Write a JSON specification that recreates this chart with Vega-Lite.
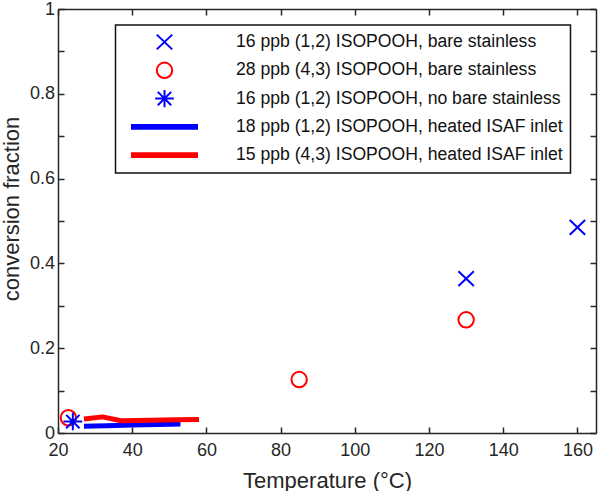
{
  "$schema": "https://vega.github.io/schema/vega-lite/v6.json",
  "width": 538,
  "height": 424,
  "autosize": {"type": "none"},
  "padding": {"left": 58, "top": 9, "right": 3, "bottom": 58},
  "background": "white",
  "config": {
    "font": "Liberation Sans",
    "view": {"stroke": null},
    "axis": {
      "grid": false,
      "domainColor": "#262626",
      "domainWidth": 1.5,
      "tickColor": "#262626",
      "tickWidth": 1.5,
      "tickSize": -6,
      "labelColor": "#262626",
      "titleColor": "#262626",
      "labelFont": "Liberation Sans",
      "titleFont": "Liberation Sans",
      "labelFontSize": 18,
      "titleFontSize": 22,
      "titleFontWeight": "normal",
      "labelFlush": false,
      "labelOverlap": false
    },
    "legend": {
      "orient": "none",
      "legendX": 57.5,
      "legendY": 16,
      "strokeColor": "#111111",
      "fillColor": "white",
      "strokeWidth": 1.5,
      "padding": 7,
      "labelFont": "Liberation Sans",
      "labelFontSize": 17.6,
      "labelColor": "#111111",
      "labelLimit": 0,
      "symbolSize": 4489,
      "symbolStrokeWidth": 2,
      "clipHeight": 20,
      "rowPadding": 8.3,
      "symbolOffset": 7.5,
      "labelOffset": 37
    }
  },
  "datasets": {
    "pts": [
      {"series": "16 ppb (1,2) ISOPOOH, bare stainless", "temp": 130, "frac": 0.364},
      {"series": "16 ppb (1,2) ISOPOOH, bare stainless", "temp": 160, "frac": 0.485},
      {"series": "28 ppb (4,3) ISOPOOH, bare stainless", "temp": 22.8, "frac": 0.036},
      {"series": "28 ppb (4,3) ISOPOOH, bare stainless", "temp": 85, "frac": 0.126},
      {"series": "28 ppb (4,3) ISOPOOH, bare stainless", "temp": 130, "frac": 0.267},
      {"series": "16 ppb (1,2) ISOPOOH, no bare stainless", "temp": 24, "frac": 0.027}
    ],
    "lines": [
      {"series": "18 ppb (1,2) ISOPOOH, heated ISAF inlet", "temp": 27, "frac": 0.016},
      {"series": "18 ppb (1,2) ISOPOOH, heated ISAF inlet", "temp": 33, "frac": 0.017},
      {"series": "18 ppb (1,2) ISOPOOH, heated ISAF inlet", "temp": 40, "frac": 0.019},
      {"series": "18 ppb (1,2) ISOPOOH, heated ISAF inlet", "temp": 47, "frac": 0.020},
      {"series": "18 ppb (1,2) ISOPOOH, heated ISAF inlet", "temp": 53, "frac": 0.021},
      {"series": "15 ppb (4,3) ISOPOOH, heated ISAF inlet", "temp": 27, "frac": 0.033},
      {"series": "15 ppb (4,3) ISOPOOH, heated ISAF inlet", "temp": 32, "frac": 0.038},
      {"series": "15 ppb (4,3) ISOPOOH, heated ISAF inlet", "temp": 37, "frac": 0.029},
      {"series": "15 ppb (4,3) ISOPOOH, heated ISAF inlet", "temp": 45, "frac": 0.030},
      {"series": "15 ppb (4,3) ISOPOOH, heated ISAF inlet", "temp": 52, "frac": 0.031},
      {"series": "15 ppb (4,3) ISOPOOH, heated ISAF inlet", "temp": 58, "frac": 0.032}
    ]
  },
  "resolve": {"axis": {"x": "independent", "y": "independent"}},
  "layer": [
    {
      "data": {"name": "lines"},
      "mark": {"type": "line", "strokeWidth": 5, "strokeJoin": "round"},
      "encoding": {
        "x": {
          "field": "temp", "type": "quantitative",
          "scale": {"domain": [20, 165], "nice": false, "zero": false},
          "axis": {"orient": "bottom", "values": [20, 40, 60, 80, 100, 120, 140, 160], "title": "Temperature (°C)", "labelPadding": 14, "titlePadding": 11}
        },
        "y": {
          "field": "frac", "type": "quantitative",
          "scale": {"domain": [0, 1], "nice": false},
          "axis": {"orient": "left", "values": [0, 0.1, 0.2, 0.3, 0.4, 0.5, 0.6, 0.7, 0.8, 0.9, 1], "format": ".1~f", "labelExpr": "round(datum.value*10) % 2 == 0 ? datum.label : ''", "title": "conversion fraction", "labelPadding": 9.5, "titlePadding": 6, "titleY": 199.5}
        },
        "color": {
          "field": "series", "type": "nominal",
          "scale": {"domain": ["18 ppb (1,2) ISOPOOH, heated ISAF inlet", "15 ppb (4,3) ISOPOOH, heated ISAF inlet"], "range": ["#0000ff", "#ff0000"]},
          "legend": null
        }
      }
    },
    {
      "data": {"name": "pts"},
      "mark": {"type": "point", "filled": true, "size": 4489, "strokeWidth": 2, "opacity": 1},
      "encoding": {
        "x": {
          "field": "temp", "type": "quantitative",
          "axis": {"orient": "top", "values": [20, 40, 60, 80, 100, 120, 140, 160], "labels": false, "title": null}
        },
        "y": {
          "field": "frac", "type": "quantitative",
          "axis": {"orient": "right", "values": [0, 0.1, 0.2, 0.3, 0.4, 0.5, 0.6, 0.7, 0.8, 0.9, 1], "labels": false, "title": null}
        },
        "shape": {
          "field": "series", "type": "nominal",
          "scale": {
            "domain": ["16 ppb (1,2) ISOPOOH, bare stainless", "28 ppb (4,3) ISOPOOH, bare stainless", "16 ppb (1,2) ISOPOOH, no bare stainless", "18 ppb (1,2) ISOPOOH, heated ISAF inlet", "15 ppb (4,3) ISOPOOH, heated ISAF inlet"],
            "range": [
              "M-0.23,-0.22L0.23,0.22M-0.23,0.22L0.23,-0.22",
              "M0.23,0A0.23,0.23 0 1,1 -0.23,0A0.23,0.23 0 1,1 0.23,0Z",
              "M0,-0.26L0,0.26M-0.28,0L0.28,0M-0.2,-0.2L0.2,0.2M-0.2,0.2L0.2,-0.2",
              "M-0.97,-0.055L0.97,-0.055L0.97,0.055L-0.97,0.055Z",
              "M-0.97,-0.055L0.97,-0.055L0.97,0.055L-0.97,0.055Z"
            ]
          },
          "legend": {"title": null}
        },
        "stroke": {
          "field": "series", "type": "nominal",
          "scale": {
            "domain": ["16 ppb (1,2) ISOPOOH, bare stainless", "28 ppb (4,3) ISOPOOH, bare stainless", "16 ppb (1,2) ISOPOOH, no bare stainless", "18 ppb (1,2) ISOPOOH, heated ISAF inlet", "15 ppb (4,3) ISOPOOH, heated ISAF inlet"],
            "range": ["#0000ff", "#ff0000", "#0000ff", "#0000ff", "#ff0000"]
          },
          "legend": {"title": null}
        },
        "fill": {
          "field": "series", "type": "nominal",
          "scale": {
            "domain": ["16 ppb (1,2) ISOPOOH, bare stainless", "28 ppb (4,3) ISOPOOH, bare stainless", "16 ppb (1,2) ISOPOOH, no bare stainless", "18 ppb (1,2) ISOPOOH, heated ISAF inlet", "15 ppb (4,3) ISOPOOH, heated ISAF inlet"],
            "range": ["transparent", "transparent", "transparent", "#0000ff", "#ff0000"]
          },
          "legend": {"title": null}
        }
      }
    }
  ]
}
